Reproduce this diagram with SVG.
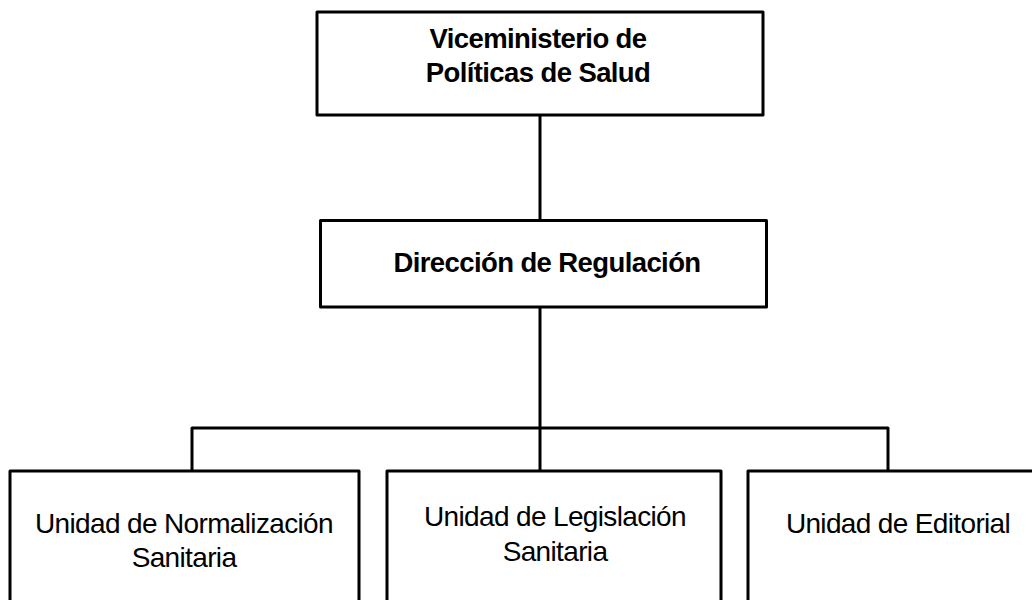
<svg xmlns="http://www.w3.org/2000/svg" width="1032" height="600" viewBox="0 0 1032 600">
<style>
.box{fill:#fff;stroke:#000;stroke-width:3;stroke-linejoin:round}
.con{fill:none;stroke:#000;stroke-width:3;stroke-linejoin:round}
.b{font-family:"Liberation Sans",Arial,sans-serif;font-size:27.5px;letter-spacing:-0.6px;font-weight:bold;fill:#000;text-anchor:middle}
.r{font-family:"Liberation Sans",Arial,sans-serif;font-size:28px;letter-spacing:-0.65px;fill:#000;text-anchor:middle}
</style>
<rect width="1032" height="600" fill="#fff"/>
<g id="connectors">
<line class="con" x1="540" y1="115" x2="540" y2="220"/>
<line class="con" x1="540" y1="307" x2="540" y2="471"/>
<polyline class="con" points="192,471 192,428 888,428 888,471"/>
</g>
<g id="vice">
<rect class="box" x="317" y="12" width="446" height="103"/>
<text class="b" x="538" y="48">Viceministerio de</text>
<text class="b" x="538" y="82">Políticas de Salud</text>
</g>
<g id="direccion">
<rect class="box" x="320.5" y="220.5" width="446" height="86.5"/>
<text class="b" x="547" y="272">Dirección de Regulación</text>
</g>
<g id="normalizacion">
<rect class="box" x="10" y="471" width="349" height="150"/>
<text class="r" x="184" y="533">Unidad de Normalización</text>
<text class="r" x="184" y="567">Sanitaria</text>
</g>
<g id="legislacion">
<rect class="box" x="387" y="471" width="334" height="150"/>
<text class="r" x="555" y="526">Unidad de Legislación</text>
<text class="r" x="555" y="561">Sanitaria</text>
</g>
<g id="editorial">
<rect class="box" x="748" y="471" width="300" height="150"/>
<text class="r" x="898" y="533">Unidad de Editorial</text>
</g>
</svg>
